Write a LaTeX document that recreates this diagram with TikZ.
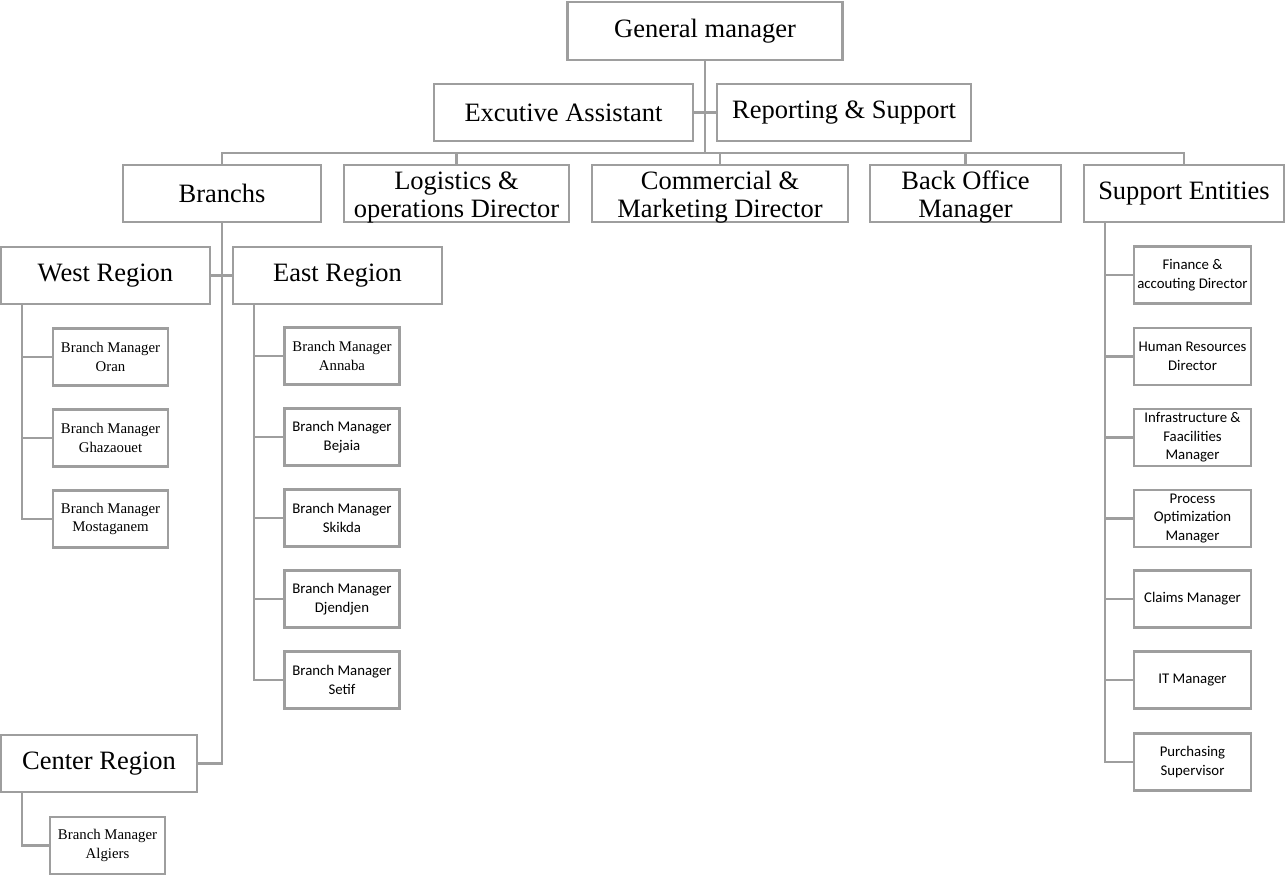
\documentclass[tikz,border=0pt]{standalone}
\usepackage{fontspec}
\setmainfont{Liberation Serif}
\newfontfamily\calibri{Carlito}
\usetikzlibrary{positioning}
\definecolor{boxgray}{RGB}{158,158,158}

\begin{document}
\begin{tikzpicture}[x=1pt,y=-1pt,
  box/.style={draw=boxgray,line width=2.5pt,fill=white,align=center,inner sep=0pt},
  big/.style={box,minimum height=57,font=\fontsize{26.5}{28}\selectfont},
  twoline/.style={big,text height=48pt,text depth=0pt},
  small/.style={box,minimum width=115,minimum height=57,font=\fontsize{14.8}{18.5}\selectfont},
  smallsf/.style={small,font=\calibri\fontsize{14.8}{18.5}\selectfont},
  link/.style={draw=boxgray,line width=2.5pt}]
\fill[white,use as bounding box] (0,0) rectangle (1286,876);
% top of the chart
\node[big,minimum width=275,minimum height=58] (gm) at (705,31) {General manager};
\node[big,minimum width=259] (ea) at (563.5,112.5) {Excutive Assistant};
\node[big,minimum width=254] (rs) at (844,112.5) {Reporting \& Support};
\coordinate (bus) at (705,153);
% directors
\node[big,minimum width=198] (branchs) at (222,193.5) {Branchs};
\node[twoline,minimum width=225] (logistics) at (456.5,193.5) {Logistics \&\\operations Director};
\node[twoline,minimum width=256] (commercial) at (720,193.5) {Commercial \&\\Marketing Director};
\node[twoline,minimum width=191] (backoffice) at (965.5,193.5) {Back Office\\Manager};
\node[big,minimum width=200] (support) at (1184,193.5) {Support Entities};
% regions
\node[big,minimum width=209] (west) at (105.5,275.5) {West Region};
\node[big,minimum width=209] (east) at (337.5,275.5) {East Region};
\node[big,minimum width=196] (center) at (99,763.5) {Center Region};
% branch managers
\node[small] (oran) at (110.5,357) {Branch Manager\\Oran};
\node[small] (ghazaouet) at (110.5,438) {Branch Manager\\Ghazaouet};
\node[small] (mostaganem) at (110.5,519) {Branch Manager\\Mostaganem};
\node[small] (annaba) at (342,356) {Branch Manager\\Annaba};
\node[smallsf] (bejaia) at (342,437) {Branch Manager\\Bejaia};
\node[smallsf] (skikda) at (342,518) {Branch Manager\\Skikda};
\node[smallsf] (djendjen) at (342,599) {Branch Manager\\Djendjen};
\node[smallsf] (setif) at (342,680) {Branch Manager\\Setif};
\node[small] (algiers) at (107.5,845.5) {Branch Manager\\Algiers};
% support entities
\node[smallsf,minimum width=117] (finance) at (1192.5,275) {Finance \&\\accouting Director};
\node[smallsf,minimum width=117] (hr) at (1192.5,356.5) {Human Resources\\Director};
\node[smallsf,minimum width=117] (infra) at (1192.5,437.5) {Infrastructure \&\\Faacilities\\Manager};
\node[smallsf,minimum width=117] (process) at (1192.5,518.5) {Process\\Optimization\\Manager};
\node[smallsf,minimum width=117] (claims) at (1192.5,599) {Claims Manager};
\node[smallsf,minimum width=117] (it) at (1192.5,680) {IT Manager};
\node[smallsf,minimum width=117] (purchasing) at (1192.5,762) {Purchasing\\Supervisor};
% connectors
\draw[link] (gm.south) -- (bus);
\draw[link] (ea.east) -- (rs.west);
\draw[link] (branchs.north) |- (bus) -| (support.north);
\draw[link] (logistics.north) -- (logistics.north |- bus);
\draw[link] (commercial.north) -- (commercial.north |- bus);
\draw[link] (backoffice.north) -- (backoffice.north |- bus);
\draw[link] (branchs.south) |- (center.east);
\draw[link] (west.east) -- (east.west);
\coordinate (wbus) at (22,304);
\coordinate (ebus) at (254,304);
\coordinate (cbus) at (22,792);
\coordinate (sbus) at (1105,222);
\draw[link] (wbus) |- (oran.west);
\draw[link] (wbus) |- (ghazaouet.west);
\draw[link] (wbus) |- (mostaganem.west);
\draw[link] (ebus) |- (annaba.west);
\draw[link] (ebus) |- (bejaia.west);
\draw[link] (ebus) |- (skikda.west);
\draw[link] (ebus) |- (djendjen.west);
\draw[link] (ebus) |- (setif.west);
\draw[link] (cbus) |- (algiers.west);
\draw[link] (sbus) |- (finance.west);
\draw[link] (sbus) |- (hr.west);
\draw[link] (sbus) |- (infra.west);
\draw[link] (sbus) |- (process.west);
\draw[link] (sbus) |- (claims.west);
\draw[link] (sbus) |- (it.west);
\draw[link] (sbus) |- (purchasing.west);
\end{tikzpicture}
\end{document}
